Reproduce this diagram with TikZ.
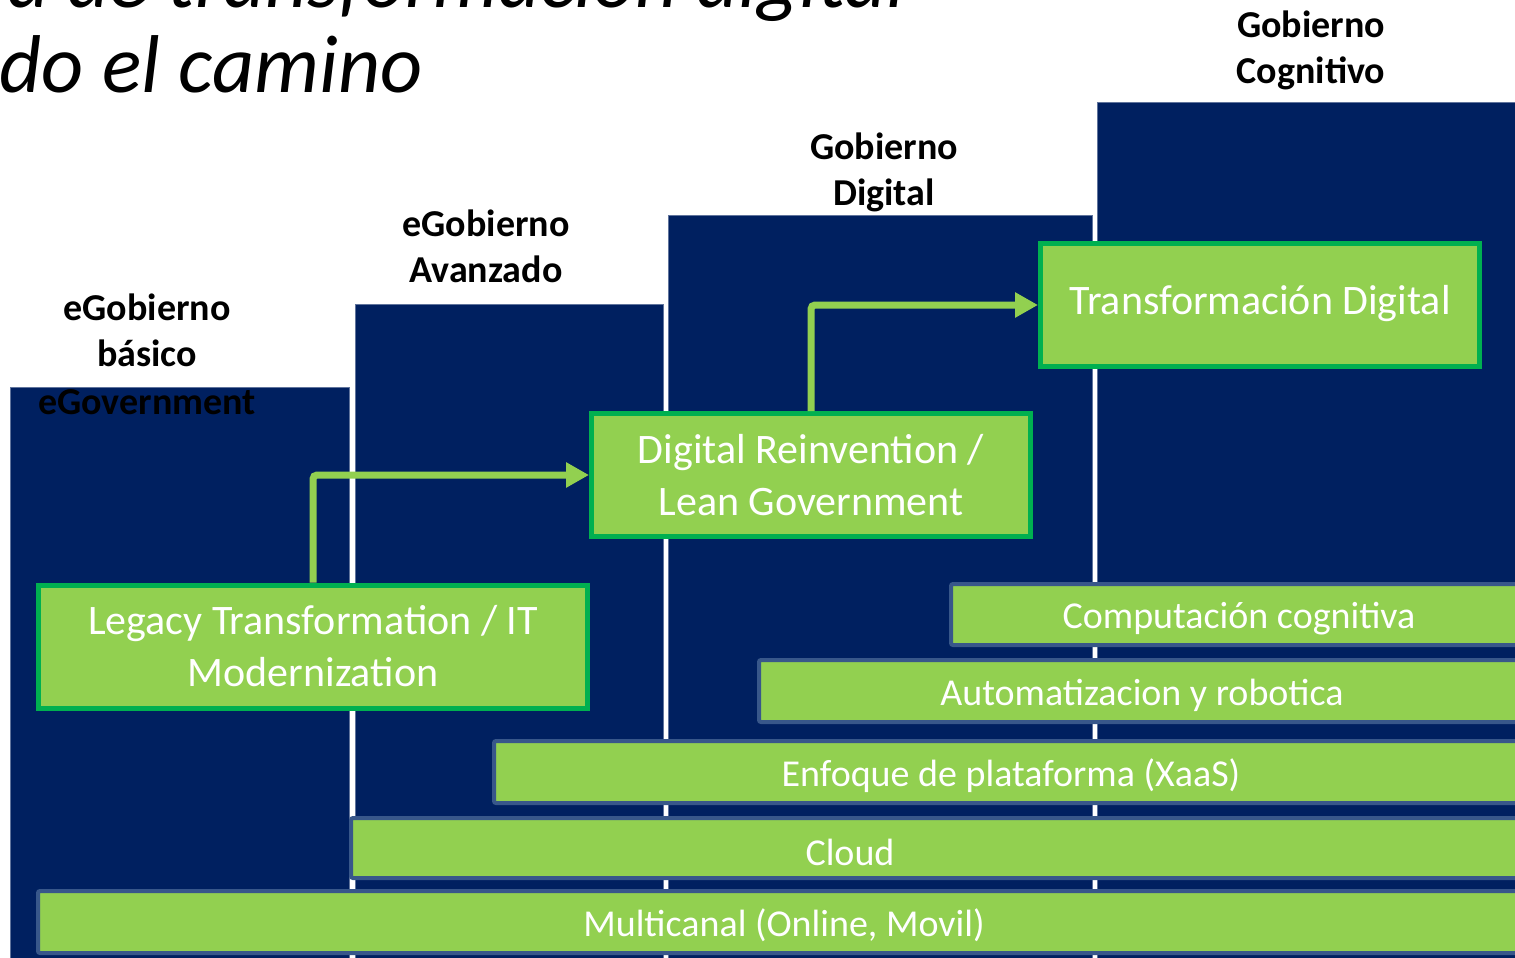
\documentclass[tikz,border=0pt]{standalone}
\usepackage{fontspec}
\setmainfont{Carlito}
\usetikzlibrary{arrows.meta}
\definecolor{navy}{HTML}{002060}
\definecolor{leaf}{HTML}{92D050}
\definecolor{leafedge}{HTML}{00B050}
\definecolor{slate}{RGB}{56,87,138}
\definecolor{colline}{RGB}{96,116,156}

\begin{document}
\begin{tikzpicture}[x=0.5pt,y=-0.5pt,
  column/.style={fill=navy,draw=colline,line width=0.5pt},
  stage/.style={font=\fontsize{19}{23}\selectfont\bfseries,align=center,anchor=base},
  lane/.style={fill=leaf,draw=slate,line width=2pt,rounded corners=1pt},
  lanetext/.style={text=white,font=\fontsize{19}{23}\selectfont},
  phase/.style={fill=leaf,draw=leafedge,line width=2.5pt,text=white,align=center,
    font=\fontsize{21}{26}\selectfont,minimum height=61.5pt,inner sep=0pt},
  flow/.style={draw=leaf,line width=3.5pt,rounded corners=2pt,
    -{Triangle[length=11.5pt,width=12pt]}}]

  \useasboundingbox (0,0) rectangle (1515,958);
  \clip (0,0) rectangle (1515,958);

  % title, cut by the page
  \node[anchor=base east,inner sep=0pt,font=\fontsize{41}{41}\selectfont\itshape] (title1) at (906,8) {a de transformación digital};
  \node[anchor=base east,inner sep=0pt,font=\fontsize{41}{41}\selectfont\itshape] (title2) at (423,92) {do el camino};

  % columns
  \draw[column] (10,387) rectangle (349,975);
  \draw[column] (355,304) rectangle (663,975);
  \draw[column] (668,215) rectangle (1092,975);
  \draw[column] (1097,102) rectangle (1540,975);

  % stage labels (base = last line)
  \node[stage] (basico) at (147,366) {eGobierno\\básico};
  \node[stage] (egov) at (147,414) {eGovernment};
  \node[stage] (avanz) at (486,282) {eGobierno\\Avanzado};
  \node[stage] (digit) at (884,205) {Gobierno\\Digital};
  \node[stage] (cogn) at (1311,83) {Gobierno\\Cognitivo};

  % lanes
  \draw[lane] (951,584) rectangle (1560,645);
  \node[lanetext] (comp) at (1239,619) {Computación cognitiva};
  \draw[lane] (759,660) rectangle (1560,722);
  \node[lanetext] (auto) at (1142,695) {Automatizacion y robotica};
  \draw[lane] (494,741) rectangle (1560,803);
  \node[lanetext] (xaas) at (1011,776) {Enfoque de plataforma (XaaS)};
  \draw[lane] (351,818) rectangle (1560,878);
  \node[lanetext] (cloud) at (850,852) {Cloud};
  \draw[lane] (38,891) rectangle (1560,953);
  \node[lanetext] (multi) at (784,925) {Multicanal (Online, Movil)};

  % phases
  \node[phase,minimum width=274.5pt] (legacy) at (313,646.5) {Legacy Transformation / IT\\Modernization};
  \node[phase,minimum width=219.5pt] (reinv) at (811,475) {Digital Reinvention /\\Lean Government};
  \node[phase,minimum width=219.5pt,text height=1.1em,text depth=0.2em] (transf) at (1260,305) {Transformación Digital};

  \draw[flow] (legacy.north) |- (reinv.west);
  \draw[flow] (reinv.north) |- (transf.west);
\end{tikzpicture}
\end{document}
